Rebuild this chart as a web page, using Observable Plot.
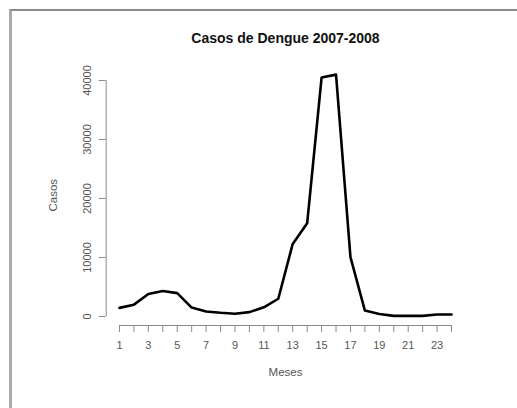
<!DOCTYPE html>
<html>
<head>
<meta charset="utf-8">
<script src="https://cdn.jsdelivr.net/npm/d3@7"></script>
<script src="https://cdn.jsdelivr.net/npm/@observablehq/plot@0.6"></script>
<style>
  html, body { margin: 0; padding: 0; background: #fff; }
  #wrap { position: relative; width: 517px; height: 408px; overflow: hidden; }
  #border { position: absolute; left: 9px; top: 9px; width: 520px; height: 420px;
            border-top: 2px solid #8c8c8c; border-left: 3px solid #ababab; box-sizing: border-box; }
  #chart { position: absolute; left: 0; top: 0; }
</style>
</head>
<body>
<div id="wrap"><div id="border"></div><div id="chart"></div></div>
<script>
const months = [1,2,3,4,5,6,7,8,9,10,11,12,13,14,15,16,17,18,19,20,21,22,23,24];
const cases  = [1450,2000,3800,4300,3950,1500,850,620,450,730,1550,3000,12300,15800,40500,41000,10050,1000,420,100,100,100,320,320];
const yTicks = [0,10000,20000,30000,40000];
const xLabelTicks = [1,3,5,7,9,11,13,15,17,19,21,23];
const title = "Casos de Dengue 2007-2008";
const xTitle = "Meses";
const yTitle = "Casos";

const data = months.map((m, i) => ({month: m, cases: cases[i]}));

const xr = 24 - 1, yr = d3.max(cases) - d3.min(cases);
const xDomain = [1 - 0.04 * xr, 24 + 0.04 * xr];
const yDomain = [d3.min(cases) - 0.04 * yr, d3.max(cases) + 0.04 * yr];

const axisGray = "#8a8a8a";
const textGray = "#555";

const chart = Plot.plot({
  width: 517,
  height: 408,
  marginLeft: 105.7,
  marginRight: 52.7,
  marginTop: 64.5,
  marginBottom: 83,
  style: {fontFamily: "'Liberation Sans', Arial, sans-serif", background: "transparent", overflow: "visible"},
  x: {domain: xDomain, axis: null},
  y: {domain: yDomain, axis: null},
  marks: [
    // x axis
    Plot.ruleY([yDomain[0]], {x1: 1, x2: 24, stroke: axisGray}),
    Plot.axisX({ticks: months, tickSize: 7, tickFormat: d => (d % 2 ? String(d) : ""), tickPadding: 9,
                label: null, stroke: axisGray, fill: textGray, fontSize: 11}),
    // y axis
    Plot.ruleX([xDomain[0]], {y1: 0, y2: 40000, stroke: axisGray}),
    Plot.axisY({ticks: yTicks, tickSize: 7, tickFormat: () => "", label: null, stroke: axisGray}),
    Plot.text(yTicks, {y: d => d, text: d => String(d), frameAnchor: "left", dx: -19, rotate: -90,
                       textAnchor: "middle", lineAnchor: "middle", fill: textGray, fontSize: 11}),
    // titles
    Plot.text([xTitle], {frameAnchor: "bottom", dy: 47, lineAnchor: "middle", fill: textGray, fontSize: 11.5}),
    Plot.text([yTitle], {frameAnchor: "left", dx: -53, rotate: -90, textAnchor: "middle", lineAnchor: "middle", fill: textGray, fontSize: 11.5}),
    Plot.text([title], {frameAnchor: "top", dy: -26.5, lineAnchor: "middle", fill: "#111", fontSize: 14, fontWeight: "bold"}),
    // data line
    Plot.line(data, {x: "month", y: "cases", stroke: "black", strokeWidth: 2.6, strokeLinejoin: "round"})
  ]
});
document.getElementById("chart").appendChild(chart);
</script>
</body>
</html>
